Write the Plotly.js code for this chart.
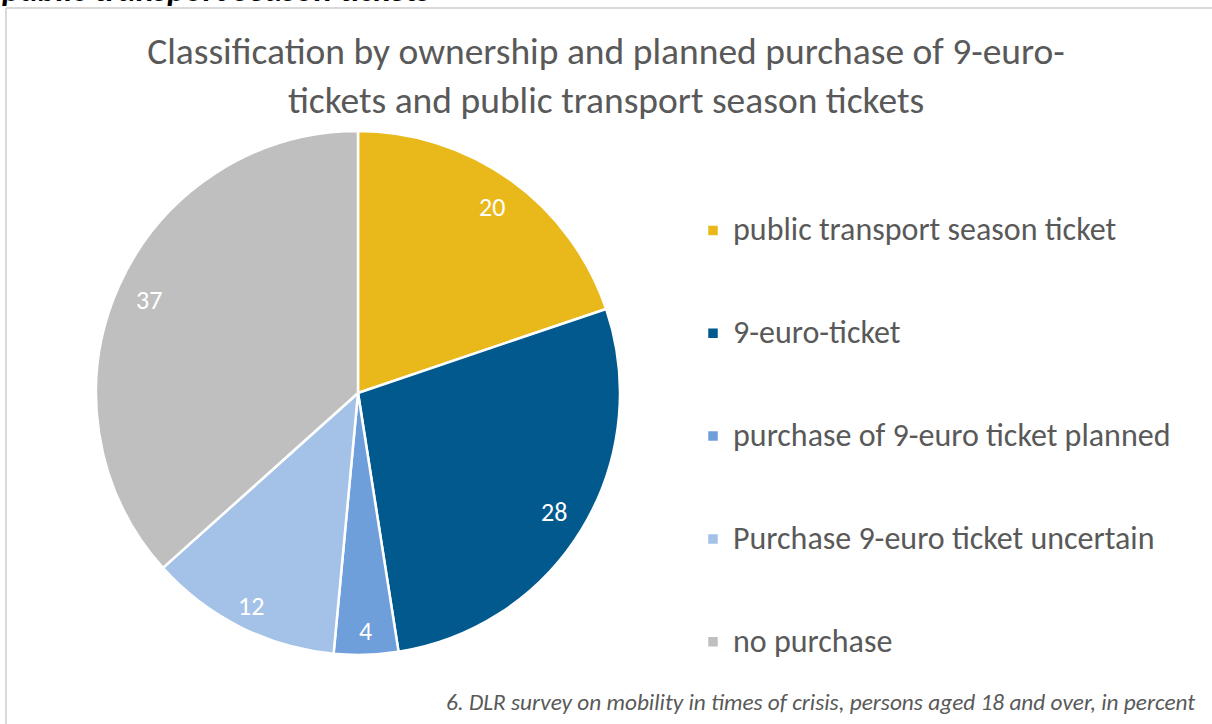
<!DOCTYPE html>
<html>
<head>
<meta charset="utf-8">
<script src="https://cdn.plot.ly/plotly-3.0.1.min.js"></script>
<style>
  html, body { margin: 0; padding: 0; background: #ffffff; }
  #chart { width: 1212px; height: 724px; }
</style>
</head>
<body>
<div id="chart"></div>
<script>
// ---- data ----
const categories = [
  'public transport season ticket',
  '9-euro-ticket',
  'purchase of 9-euro ticket planned',
  'Purchase 9-euro ticket uncertain',
  'no purchase'
];
const shares = [20, 28, 4, 12, 37];
const sliceColors = ['#E9B91B', '#02598E', '#6F9FDA', '#A4C2E7', '#BFBFBF'];

const chartTitle = 'Classification by ownership and planned purchase of 9-euro-<br>tickets and public transport season tickets';
const sourceNote = '6. DLR survey on mobility in times of crisis, persons aged 18 and over, in percent';
const headerFragment = 'public transport season tickets';

// ---- layout constants ----
const W = 1212, H = 724;
const FONT = 'Carlito, Lato, "Liberation Sans", sans-serif';
const pieCx = 358, pieCy = 393, pieR = 262;
const domX = [(pieCx - pieR) / W, (pieCx + pieR) / W];
const domY = [(H - pieCy - pieR) / H, (H - pieCy + pieR) / H];

// legend labels padded (blank lines) to get the wide vertical spacing of the reference
const legendLabels = categories.map(c => ' <br><span style="font-size:32px">' + c + '</span><br> ');

const trace = {
  type: 'pie',
  labels: legendLabels,
  values: shares,
  sort: false,
  direction: 'clockwise',
  rotation: 0,
  textinfo: 'none',
  hoverinfo: 'value',
  marker: { colors: sliceColors, line: { color: '#ffffff', width: 2.5 } },
  domain: { x: domX, y: domY }
};

// data labels placed along each slice's mid-angle, derived from the values
const total = shares.reduce((a, b) => a + b, 0);
const labelAnnotations = [];
let cum = 0;
shares.forEach((v, i) => {
  const mid = (cum + v / 2) / total * 2 * Math.PI;
  cum += v;
  const k = v < 15 ? 0.91 : 0.875;
  const px = pieCx + k * pieR * Math.sin(mid);
  const py = pieCy - k * pieR * Math.cos(mid);
  labelAnnotations.push({
    x: px / W, y: 1 - py / H, xref: 'paper', yref: 'paper',
    text: String(v), showarrow: false,
    xanchor: 'center', yanchor: 'middle',
    font: { family: FONT, size: 26, color: '#ffffff' }
  });
});

const layout = {
  width: W, height: H,
  margin: { l: 0, r: 0, t: 0, b: 0 },
  paper_bgcolor: '#ffffff',
  plot_bgcolor: '#ffffff',
  title: {
    text: chartTitle,
    x: 0.5, xanchor: 'center',
    y: 1 - 64 / H, yanchor: 'top', yref: 'container',
    font: { family: FONT, size: 37.5, color: '#595959' }
  },
  showlegend: true,
  legend: {
    x: 693 / W, xanchor: 'left',
    y: 1 - 174 / H, yanchor: 'top',
    font: { family: FONT, size: 25.6, color: '#595959' },
    bgcolor: 'rgba(0,0,0,0)',
    traceorder: 'normal'
  },
  shapes: [
    { type: 'line', xref: 'paper', yref: 'paper', x0: 6 / W, x1: 1, y0: 1 - 8 / H, y1: 1 - 8 / H,
      line: { color: '#D9D9D9', width: 2 } },
    { type: 'line', xref: 'paper', yref: 'paper', x0: 6 / W, x1: 6 / W, y0: 0, y1: 1 - 8 / H,
      line: { color: '#D9D9D9', width: 2 } }
  ],
  annotations: labelAnnotations.concat([
    {
      x: 1197 / W, y: 1 - 718 / H, xref: 'paper', yref: 'paper',
      xanchor: 'right', yanchor: 'bottom', showarrow: false,
      text: '<i>' + sourceNote + '</i>',
      font: { family: FONT, size: 23.3, color: '#595959' }
    },
    {
      x: 0, y: 1 - 12 / H, xref: 'paper', yref: 'paper',
      xanchor: 'left', yanchor: 'bottom', showarrow: false,
      text: '<b><i>' + headerFragment + '</i></b>',
      font: { family: FONT, size: 34, color: '#000000' }
    }
  ])
};

Plotly.newPlot('chart', [trace], layout, { displayModeBar: false, staticPlot: true });
</script>
</body>
</html>
